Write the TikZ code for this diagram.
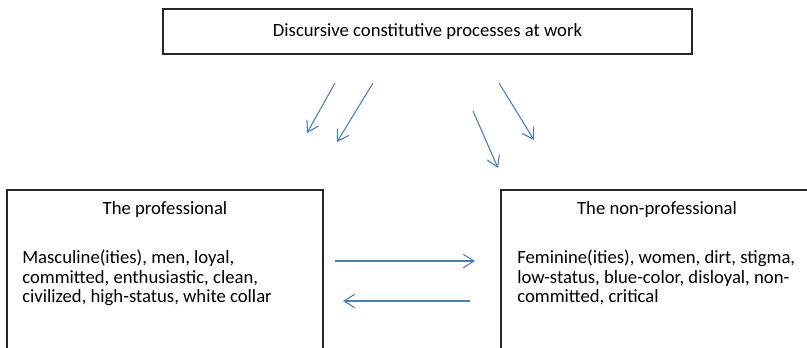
\documentclass[tikz,border=0pt]{standalone}
\usepackage{fontspec}
\setmainfont{Carlito}
\usetikzlibrary{arrows.meta,positioning}
\definecolor{flowblue}{RGB}{74,126,187}

\begin{document}
\begin{tikzpicture}[x=0.75pt,y=-0.75pt,>={Straight Barb[length=8pt,width=10pt]},
                    font=\fontsize{14}{14.5}\selectfont]
  \tikzstyle{box}=[draw=black!85,line width=0.8pt,inner sep=0pt]
  \tikzstyle{flow}=[->,draw=flowblue,line width=0.8pt]
  \tikzstyle{txt}=[inner sep=0pt,align=left]

  \useasboundingbox (0,0) rectangle (807,347);

  \node[box,minimum width=396.75pt,minimum height=33.75pt] (work) at (427.5,31.5)
       {Discursive constitutive processes at work};
  \node[box,minimum width=237pt,minimum height=121.5pt]    (prof)    at (165,271) {};
  \node[box,minimum width=234pt,minimum height=121.5pt]    (nonprof) at (657,271) {};

  \node[txt,anchor=base]       (proftitle)    at (165,214) {The professional};
  \node[txt,anchor=base]       (nonproftitle) at (657,214) {The non-professional};
  \node[txt,anchor=north west] (profbody)     at (22,250)
       {Masculine(ities), men, loyal,\\committed, enthusiastic, clean,\\civilized, high-status, white collar};
  \node[txt,anchor=north west] (nonprofbody)  at (517,250)
       {Feminine(ities), women, dirt, stigma,\\low-status, blue-color, disloyal, non-\\committed, critical};

  \coordinate (s1) at (335,83);  \coordinate (e1) at (307,133);
  \coordinate (s2) at (373,83);  \coordinate (e2) at (337,142);
  \coordinate (s3) at (473,111); \coordinate (e3) at (498,168);
  \coordinate (s4) at (499,83);  \coordinate (e4) at (534,140);
  \coordinate (s5) at (335,261); \coordinate (e5) at (475,261);
  \coordinate (s6) at (470,301); \coordinate (e6) at (343,301);

  \path (s1) edge[flow] (e1)
        (s2) edge[flow] (e2)
        (s3) edge[flow] (e3)
        (s4) edge[flow] (e4)
        (s5) edge[flow] (e5)
        (s6) edge[flow] (e6);

\end{tikzpicture}
\end{document}
